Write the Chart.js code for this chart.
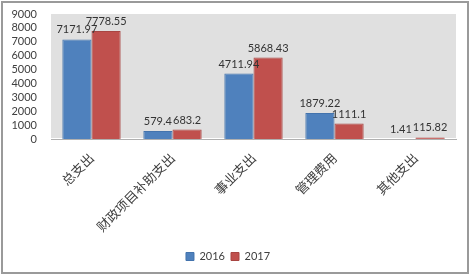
<!DOCTYPE html>
<html><head><meta charset="utf-8">
<script src="https://cdn.jsdelivr.net/npm/chart.js@4/dist/chart.umd.min.js"></script>
<style>html,body{margin:0;padding:0;background:#fff}#w{width:470px;height:275px}</style>
</head><body><div id="w"><canvas id="c"></canvas></div>
<script>
const categories = ["总支出","财政项目补助支出","事业支出","管理费用","其他支出"];
const values2016 = [7171.97, 579.4, 4711.94, 1879.22, 1.41];
const values2017 = [7778.55, 683.2, 5868.43, 1111.1, 115.82];
const seriesNames = ["2016","2017"];
const yTicks = [0,1000,2000,3000,4000,5000,6000,7000,8000,9000];

const plotBg = {
  id:'plotBg',
  beforeDraw(chart){
    const ctx = chart.ctx;
    const a = chart.chartArea;
    ctx.save();
    ctx.fillStyle='#ffffff';
    ctx.fillRect(0,0,chart.width,chart.height);
    ctx.strokeStyle='#9a9a9a';
    ctx.lineWidth=2;
    ctx.strokeRect(2,2,chart.width-4,chart.height-4);
    ctx.fillStyle='#e0e0e0';
    ctx.fillRect(a.left,a.top,a.right-a.left,a.bottom-a.top-1);
    ctx.restore();
  }
};
const valueLabels = {
  id:'valueLabels',
  afterDatasetsDraw(chart){
    const ctx=chart.ctx;
    ctx.save();
    ctx.font='11px Lato';
    ctx.fillStyle='#333';
    ctx.textAlign='center';
    ctx.textBaseline='bottom';
    chart.data.datasets.forEach((ds,i)=>{
      chart.getDatasetMeta(i).data.forEach((bar,j)=>{
        ctx.fillText(String(ds.data[j]), bar.x, bar.y-4);
      });
    });
    ctx.restore();
  }
};
new Chart(document.getElementById('c'),{
  type:'bar',
  data:{labels:categories,datasets:[
    {label:seriesNames[0],data:values2016,backgroundColor:'#4f81bd',borderColor:'#4373ad',borderWidth:1},
    {label:seriesNames[1],data:values2017,backgroundColor:'#c0504d',borderColor:'#a84542',borderWidth:1}
  ]},
  options:{
    responsive:true,maintainAspectRatio:false,animation:false,
    layout:{padding:{top:14,right:14,left:0,bottom:3}},
    datasets:{bar:{categoryPercentage:0.72,barPercentage:1}},
    plugins:{
      tooltip:{enabled:false},
      legend:{position:'bottom',labels:{boxWidth:8,boxHeight:8,padding:6,color:'#404040',font:{family:'Lato',size:11}}}
    },
    scales:{
      y:{min:0,max:9000,
        afterBuildTicks(s){s.ticks=yTicks.map(v=>({value:v}));},
        afterFit(s){s.width=51;},
        grid:{display:false},border:{display:false},
        ticks:{autoSkip:false,callback:v=>String(v),color:'#404040',font:{family:'Lato',size:11},padding:6}},
      x:{
        afterFit(s){s.height=106;},
        grid:{display:false},border:{display:true,color:'#b0b0b0'},
        ticks:{minRotation:45,maxRotation:45,color:'#404040',padding:3,font:{family:'"Noto Sans CJK SC"',size:13}}}
    }
  },
  plugins:[plotBg,valueLabels]
});
</script></body></html>
